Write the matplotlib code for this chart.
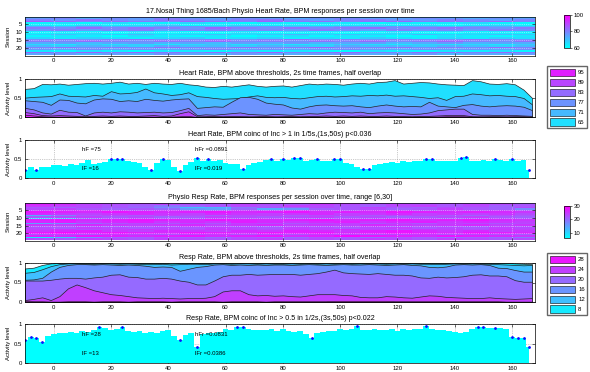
import numpy as np
import matplotlib
matplotlib.use('Agg')
import matplotlib.pyplot as plt
from matplotlib.patches import Patch
from matplotlib.colors import Normalize

plt.rcParams['font.family'] = ['Liberation Sans', 'DejaVu Sans']
plt.rcParams['font.size'] = 4.3

# ---------------- data ----------------
TITLE1 = "17.Nosaj Thing 1685/Bach Physio Heart Rate, BPM responses per session over time"
TITLE2 = "Heart Rate, BPM above thresholds, 2s time frames, half overlap"
TITLE3 = "Heart Rate, BPM coinc of Inc > 1 in 1/5s,(1s,50s) p<0.036"
TITLE4 = "Physio Resp Rate, BPM responses per session over time, range [6,30]"
TITLE5 = "Resp Rate, BPM above thresholds, 2s time frames, half overlap"
TITLE6 = "Resp Rate, BPM coinc of Inc > 0.5 in 1/2s,(3s,50s) p<0.022"

# heart-rate heatmap (BPM), 24 sessions x 20 time blocks of 9 s starting at -10 s
hr_map = [
    [72, 75, 70, 74, 78, 72, 70, 75, 73, 72, 76, 74, 70, 72, 75, 73, 71, 74, 72, 70],
    [76, 79, 74, 78, 75, 80, 77, 74, 78, 76, 73, 77, 79, 75, 74, 78, 76, 73, 77, 75],
    [80, 77, 82, 78, 76, 81, 79, 77, 80, 82, 78, 75, 79, 81, 77, 76, 80, 78, 75, 79],
    [86, 84, 80, 83, 81, 79, 84, 82, 80, 85, 81, 83, 79, 82, 84, 80, 83, 81, 84, 80],
    [62, 64, 61, 65, 63, 62, 66, 63, 61, 64, 62, 65, 63, 61, 64, 62, 63, 65, 62, 61],
    [64, 62, 66, 63, 65, 68, 62, 64, 66, 63, 65, 62, 64, 67, 63, 65, 62, 64, 66, 63],
    [74, 72, 76, 73, 71, 75, 77, 72, 74, 76, 71, 73, 75, 72, 77, 74, 72, 75, 73, 71],
    [81, 78, 83, 79, 82, 80, 77, 84, 80, 78, 82, 79, 81, 83, 78, 80, 82, 79, 77, 81],
    [77, 80, 76, 79, 81, 75, 78, 80, 77, 79, 76, 81, 78, 75, 80, 77, 79, 76, 80, 78],
    [63, 65, 62, 64, 66, 63, 61, 65, 64, 62, 66, 63, 65, 62, 64, 63, 66, 62, 64, 65],
    [62, 63, 65, 61, 64, 62, 63, 61, 65, 63, 62, 64, 61, 63, 65, 62, 61, 64, 63, 62],
    [67, 70, 66, 69, 71, 67, 68, 70, 66, 69, 72, 67, 70, 68, 66, 71, 68, 67, 70, 69],
    [62, 64, 63, 61, 65, 63, 62, 64, 61, 63, 65, 62, 64, 63, 61, 62, 64, 63, 62, 64],
    [66, 64, 67, 65, 63, 66, 68, 64, 65, 67, 63, 66, 64, 68, 65, 63, 66, 64, 67, 65],
    [78, 81, 77, 80, 82, 78, 79, 81, 77, 80, 83, 78, 80, 77, 81, 79, 78, 82, 80, 77],
    [81, 79, 83, 80, 78, 82, 80, 84, 79, 81, 78, 82, 80, 83, 79, 81, 84, 80, 78, 82],
    [73, 75, 71, 74, 76, 72, 74, 71, 75, 73, 76, 72, 74, 75, 71, 73, 76, 72, 74, 73],
    [66, 64, 68, 65, 67, 64, 66, 69, 65, 67, 64, 66, 68, 65, 64, 67, 65, 66, 64, 68],
    [71, 69, 72, 70, 68, 73, 70, 71, 69, 72, 70, 68, 73, 70, 71, 69, 72, 70, 68, 71],
    [80, 82, 78, 81, 79, 83, 80, 78, 82, 79, 81, 84, 79, 80, 82, 78, 81, 79, 83, 80],
    [76, 74, 78, 75, 77, 74, 76, 79, 75, 77, 74, 76, 78, 75, 74, 77, 75, 76, 74, 78],
    [64, 62, 65, 63, 61, 64, 63, 62, 65, 63, 64, 62, 61, 65, 63, 62, 64, 63, 65, 62],
    [83, 80, 85, 81, 84, 82, 79, 83, 81, 85, 80, 82, 84, 81, 80, 83, 82, 80, 84, 81],
    [74, 76, 72, 75, 73, 77, 74, 72, 76, 74, 73, 75, 77, 73, 74, 76, 72, 75, 73, 76],
]

# respiration-rate heatmap (BPM), 24 sessions x 20 time blocks of 9 s
rr_map = [
    [22, 23, 21, 22, 24, 22, 21, 23, 22, 21, 23, 22, 24, 22, 21, 22, 23, 21, 22, 20],
    [27, 26, 24, 23, 22, 24, 23, 22, 24, 23, 22, 25, 23, 22, 24, 23, 22, 24, 23, 22],
    [25, 24, 23, 22, 21, 19, 20, 22, 23, 22, 24, 23, 22, 21, 23, 24, 22, 23, 21, 22],
    [22, 21, 23, 22, 20, 17, 12, 13, 19, 22, 21, 23, 22, 24, 22, 21, 23, 22, 21, 23],
    [23, 24, 22, 21, 22, 20, 16, 15, 20, 14, 16, 21, 22, 23, 21, 22, 24, 22, 21, 17],
    [24, 25, 26, 24, 23, 25, 24, 22, 24, 23, 25, 24, 23, 25, 24, 22, 24, 23, 24, 22],
    [28, 27, 26, 28, 27, 26, 27, 28, 26, 27, 28, 26, 27, 26, 28, 27, 26, 27, 26, 25],
    [26, 25, 24, 25, 26, 25, 24, 26, 25, 24, 25, 26, 24, 25, 26, 24, 25, 24, 25, 23],
    [14, 18, 22, 23, 22, 24, 23, 22, 23, 24, 22, 23, 24, 22, 23, 24, 22, 21, 23, 22],
    [22, 23, 24, 22, 23, 21, 22, 24, 23, 22, 23, 24, 22, 23, 21, 22, 23, 24, 22, 21],
    [10, 13, 19, 22, 23, 22, 21, 23, 22, 23, 22, 21, 23, 22, 24, 23, 21, 22, 23, 22],
    [27, 28, 26, 27, 28, 27, 26, 28, 27, 26, 27, 28, 26, 27, 28, 26, 27, 28, 26, 25],
    [26, 27, 25, 26, 27, 25, 26, 25, 27, 26, 25, 26, 27, 25, 26, 27, 25, 26, 25, 24],
    [15, 17, 20, 22, 23, 22, 23, 22, 24, 23, 22, 23, 24, 22, 23, 22, 24, 23, 22, 23],
    [25, 24, 26, 25, 24, 25, 26, 24, 25, 26, 24, 25, 24, 26, 25, 24, 25, 26, 24, 25],
    [22, 23, 22, 21, 23, 22, 24, 23, 22, 21, 23, 22, 23, 24, 22, 23, 22, 21, 23, 22],
    [23, 22, 24, 23, 22, 23, 22, 24, 23, 22, 24, 23, 22, 23, 24, 22, 23, 22, 24, 23],
    [24, 25, 23, 24, 25, 24, 23, 25, 24, 23, 25, 24, 26, 24, 23, 25, 24, 23, 25, 24],
    [25, 26, 27, 25, 24, 26, 25, 24, 26, 25, 27, 26, 25, 27, 28, 26, 25, 26, 24, 25],
    [28, 29, 27, 28, 27, 26, 28, 27, 26, 28, 27, 28, 26, 27, 28, 27, 26, 28, 27, 26],
    [22, 23, 22, 24, 23, 22, 23, 24, 22, 23, 22, 24, 23, 22, 23, 24, 22, 23, 22, 21],
    [27, 26, 28, 27, 26, 27, 28, 26, 27, 28, 26, 27, 29, 28, 27, 26, 28, 27, 26, 25],
    [9, 12, 17, 20, 21, 22, 21, 20, 22, 21, 20, 22, 21, 20, 22, 21, 20, 21, 20, 19],
    [23, 22, 24, 23, 22, 24, 23, 22, 23, 24, 22, 23, 22, 24, 23, 22, 24, 23, 22, 23],
]

# fraction of sessions above thresholds, sampled every 3 s from -10 s
hr_thresholds = [95, 89, 83, 77, 71, 65]
hr65 = [0.74, 0.76, 0.87, 0.86, 0.88, 0.85, 0.87, 0.89, 0.90, 0.88,
        0.90, 0.93, 0.88, 0.90, 0.87, 0.90, 0.88, 0.87, 0.90, 0.86,
        0.84, 0.80, 0.79, 0.82, 0.80, 0.83, 0.86, 0.82, 0.80, 0.82,
        0.83, 0.80, 0.84, 0.88, 0.86, 0.88, 0.87, 0.85, 0.88, 0.90,
        0.88, 0.92, 0.93, 0.97, 0.88, 0.90, 0.92, 0.91, 0.88, 0.86,
        0.85, 0.84, 0.97, 0.94, 0.88, 0.87, 0.89, 0.86, 0.72, 0.50]
hr71 = [0.51, 0.53, 0.54, 0.55, 0.62, 0.56, 0.55, 0.54, 0.58, 0.56,
        0.68, 0.62, 0.63, 0.66, 0.75, 0.65, 0.62, 0.58, 0.60, 0.65,
        0.55, 0.53, 0.50, 0.48, 0.49, 0.50, 0.54, 0.57, 0.53, 0.52,
        0.53, 0.50, 0.49, 0.52, 0.55, 0.56, 0.54, 0.55, 0.57, 0.56,
        0.58, 0.57, 0.59, 0.56, 0.57, 0.55, 0.53, 0.50, 0.52, 0.45,
        0.55, 0.56, 0.62, 0.60, 0.57, 0.58, 0.56, 0.55, 0.50, 0.33]
hr77 = [0.44, 0.42, 0.40, 0.32, 0.46, 0.45, 0.38, 0.36, 0.46, 0.49,
        0.48, 0.42, 0.44, 0.42, 0.48, 0.45, 0.43, 0.46, 0.48, 0.49,
        0.24, 0.26, 0.28, 0.27, 0.40, 0.52, 0.53, 0.48, 0.38, 0.35,
        0.33, 0.25, 0.22, 0.28, 0.32, 0.33, 0.31, 0.30, 0.31, 0.28,
        0.26, 0.30, 0.33, 0.30, 0.28, 0.29, 0.28, 0.40, 0.30, 0.28,
        0.26, 0.32, 0.34, 0.30, 0.28, 0.30, 0.31, 0.30, 0.27, 0.18]
hr83 = [0.24, 0.20, 0.12, 0.09, 0.19, 0.14, 0.13, 0.04, 0.12, 0.14,
        0.12, 0.15, 0.14, 0.12, 0.13, 0.14, 0.12, 0.13, 0.18, 0.24,
        0.05, 0.07, 0.06, 0.08, 0.10, 0.12, 0.08, 0.07, 0.06, 0.08,
        0.07, 0.06, 0.08, 0.10, 0.09, 0.12, 0.14, 0.13, 0.12, 0.14,
        0.10, 0.12, 0.13, 0.12, 0.10, 0.08, 0.09, 0.12, 0.18, 0.20,
        0.22, 0.22, 0.08, 0.06, 0.06, 0.05, 0.06, 0.05, 0.04, 0.03]
hr89 = [0.13, 0.10, 0.05, 0.04, 0.05, 0.04, 0.03, 0.02, 0.03, 0.04,
        0.03, 0.04, 0.03, 0.03, 0.04, 0.05, 0.03, 0.04, 0.10, 0.15,
        0.02, 0.02, 0.03, 0.02, 0.03, 0.03, 0.02, 0.02, 0.03, 0.02,
        0.02, 0.03, 0.02, 0.03, 0.03, 0.04, 0.03, 0.04, 0.03, 0.04,
        0.03, 0.03, 0.04, 0.03, 0.03, 0.02, 0.03, 0.03, 0.04, 0.05,
        0.05, 0.05, 0.02, 0.02, 0.02, 0.02, 0.02, 0.02, 0.02, 0.01]
hr95 = [0.06, 0.04, 0.02, 0.01, 0.01, 0.01, 0.01, 0.00, 0.01, 0.01,
        0.01, 0.01, 0.01, 0.01, 0.01, 0.01, 0.01, 0.01, 0.02, 0.03,
        0.00, 0.01, 0.01, 0.00, 0.01, 0.01, 0.00, 0.01, 0.01, 0.00,
        0.01, 0.01, 0.00, 0.01, 0.01, 0.01, 0.01, 0.01, 0.01, 0.01,
        0.01, 0.01, 0.01, 0.01, 0.01, 0.00, 0.01, 0.01, 0.01, 0.02,
        0.02, 0.02, 0.01, 0.00, 0.01, 0.01, 0.00, 0.01, 0.01, 0.00]

rr_thresholds = [28, 24, 20, 16, 12, 8]
rr8 = [0.86, 0.88, 0.95, 0.99, 1.00, 1.00, 1.00, 1.00, 1.00, 1.00,
       1.00, 1.00, 1.00, 1.00, 1.00, 1.00, 1.00, 0.99, 1.00, 1.00,
       1.00, 1.00, 1.00, 1.00, 1.00, 1.00, 1.00, 1.00, 1.00, 1.00,
       1.00, 1.00, 1.00, 1.00, 1.00, 1.00, 1.00, 1.00, 1.00, 1.00,
       1.00, 1.00, 1.00, 1.00, 1.00, 1.00, 1.00, 1.00, 1.00, 1.00,
       1.00, 1.00, 1.00, 1.00, 1.00, 1.00, 1.00, 0.99, 0.98, 0.97]
rr12 = [0.75, 0.77, 0.84, 0.92, 0.97, 0.99, 0.99, 0.98, 0.98, 0.99,
        0.99, 0.98, 0.99, 0.98, 0.97, 0.97, 0.98, 0.96, 0.97, 0.98,
        0.98, 0.97, 0.99, 0.99, 0.98, 0.99, 0.99, 0.98, 0.99, 0.98,
        0.98, 0.99, 0.98, 0.99, 0.98, 0.99, 0.98, 0.99, 0.98, 0.99,
        0.98, 0.99, 0.98, 0.99, 0.98, 0.99, 0.98, 0.98, 0.97, 0.98,
        0.99, 0.98, 0.99, 0.98, 0.98, 0.97, 0.96, 0.95, 0.94, 0.95]
rr16 = [0.57, 0.58, 0.62, 0.78, 0.90, 0.95, 0.97, 0.97, 0.96, 0.97,
        0.96, 0.95, 0.96, 0.95, 0.93, 0.90, 0.91, 0.90, 0.80, 0.85,
        0.90, 0.92, 0.96, 0.97, 0.95, 0.96, 0.95, 0.96, 0.95, 0.96,
        0.96, 0.95, 0.96, 0.97, 0.96, 0.95, 0.96, 0.97, 0.96, 0.96,
        0.97, 0.96, 0.95, 0.96, 0.97, 0.95, 0.94, 0.90, 0.89, 0.91,
        0.96, 0.97, 0.96, 0.97, 0.95, 0.88, 0.87, 0.82, 0.78, 0.78]
rr20 = [0.55, 0.55, 0.55, 0.57, 0.60, 0.62, 0.62, 0.60, 0.63, 0.65,
        0.70, 0.71, 0.65, 0.64, 0.60, 0.60, 0.62, 0.60, 0.55, 0.52,
        0.45, 0.45, 0.55, 0.66, 0.70, 0.70, 0.72, 0.70, 0.71, 0.72,
        0.72, 0.72, 0.70, 0.72, 0.74, 0.78, 0.83, 0.76, 0.74, 0.73,
        0.72, 0.74, 0.72, 0.70, 0.70, 0.68, 0.63, 0.62, 0.65, 0.63,
        0.64, 0.66, 0.70, 0.71, 0.68, 0.68, 0.66, 0.56, 0.52, 0.52]
rr24 = [0.05, 0.08, 0.12, 0.05, 0.15, 0.35, 0.45, 0.38, 0.30, 0.25,
        0.20, 0.18, 0.15, 0.12, 0.11, 0.10, 0.11, 0.10, 0.09, 0.10,
        0.10, 0.11, 0.15, 0.27, 0.30, 0.30, 0.20, 0.17, 0.18, 0.16,
        0.17, 0.15, 0.14, 0.17, 0.20, 0.20, 0.20, 0.18, 0.17, 0.13,
        0.12, 0.12, 0.15, 0.14, 0.12, 0.11, 0.14, 0.17, 0.16, 0.13,
        0.12, 0.11, 0.10, 0.10, 0.12, 0.10, 0.09, 0.08, 0.09, 0.10]
rr28 = [0.03, 0.02, 0.02, 0.01, 0.01, 0.02, 0.02, 0.02, 0.01, 0.02,
        0.02, 0.02, 0.01, 0.02, 0.02, 0.02, 0.02, 0.01, 0.02, 0.02,
        0.02, 0.02, 0.02, 0.01, 0.02, 0.02, 0.02, 0.02, 0.01, 0.02,
        0.02, 0.02, 0.02, 0.02, 0.02, 0.02, 0.03, 0.03, 0.03, 0.03,
        0.03, 0.03, 0.03, 0.02, 0.02, 0.02, 0.02, 0.02, 0.02, 0.02,
        0.02, 0.02, 0.02, 0.02, 0.02, 0.02, 0.01, 0.01, 0.01, 0.01]

# coincidence activity, sampled every 2 s from -10 s
hr_coinc = [0.20, 0.30, 0.22, 0.30, 0.28, 0.33, 0.35, 0.32, 0.38, 0.35,
            0.40, 0.48, 0.38, 0.40, 0.42, 0.50, 0.50, 0.50, 0.45, 0.42,
            0.40, 0.30, 0.22, 0.40, 0.50, 0.48, 0.30, 0.18, 0.35, 0.42,
            0.52, 0.45, 0.50, 0.44, 0.48, 0.40, 0.38, 0.36, 0.25, 0.35,
            0.40, 0.42, 0.48, 0.50, 0.45, 0.50, 0.48, 0.52, 0.52, 0.46,
            0.47, 0.50, 0.46, 0.45, 0.50, 0.50, 0.40, 0.38, 0.30, 0.25,
            0.25, 0.35, 0.38, 0.40, 0.42, 0.40, 0.44, 0.43, 0.45, 0.46,
            0.50, 0.50, 0.45, 0.44, 0.45, 0.46, 0.52, 0.54, 0.46, 0.45,
            0.48, 0.44, 0.50, 0.48, 0.46, 0.50, 0.46, 0.48, 0.22]
rr_coinc = [0.60, 0.66, 0.64, 0.55, 0.70, 0.75, 0.78, 0.76, 0.80, 0.78,
            0.82, 0.80, 0.85, 0.93, 0.90, 0.85, 0.88, 0.92, 0.82, 0.80,
            0.82, 0.78, 0.80, 0.78, 0.82, 0.85, 0.70, 0.58, 0.72, 0.78,
            0.42, 0.75, 0.78, 0.76, 0.80, 0.86, 0.85, 0.92, 0.92, 0.86,
            0.84, 0.85, 0.84, 0.86, 0.83, 0.87, 0.83, 0.80, 0.82, 0.75,
            0.64, 0.78, 0.80, 0.82, 0.83, 0.86, 0.84, 0.86, 0.94, 0.85,
            0.84, 0.86, 0.85, 0.84, 0.86, 0.82, 0.87, 0.85, 0.86, 0.88,
            0.96, 0.86, 0.85, 0.84, 0.82, 0.80, 0.76, 0.80, 0.88, 0.92,
            0.92, 0.90, 0.91, 0.90, 0.86, 0.66, 0.65, 0.65, 0.42]
hr_stats = ["hF =75", "lF =16", "hFr =0.0891", "lFr =0.019"]
rr_stats = ["hF =28", "lF =13", "hFr =0.0831", "lFr =0.0386"]

# ---------------- drawing ----------------
W, H = 590, 372
fig = plt.figure(figsize=(W / 100, H / 100), dpi=100)
cmap = plt.get_cmap('cool')
XL = (-10, 168)


def box(l, t, r, b):
    return [l / W, 1 - b / H, (r - l) / W, (b - t) / H]


def style(ax):
    ax.set_xlim(*XL)
    ax.set_xticks(range(0, 161, 20))
    ax.tick_params(direction='in', length=2, width=0.4, top=True, right=True, pad=2)
    for s in ax.spines.values():
        s.set_linewidth(0.5)


def heat(ax, data, vmin, vmax, title):
    arr = np.array(data, dtype=float)
    nrow, ncol = arr.shape
    im = ax.imshow(arr, aspect='auto', cmap=cmap, vmin=vmin, vmax=vmax,
                   extent=(-10, -10 + 9 * ncol, nrow + 0.5, 0.5), interpolation='nearest')
    style(ax)
    ax.set_ylim(nrow + 0.5, 0.5)
    ax.set_yticks([5, 10, 15, 20])
    ax.set_ylabel('Session', labelpad=1)
    ax.grid(True, color='white', linestyle=':', linewidth=0.5, alpha=0.8)
    ax.set_title(title, pad=3)
    return im


def stacked(ax, x, curves, thresholds, vmin, vmax, title):
    norm = Normalize(vmin, vmax)
    for thr, y in sorted(zip(thresholds, curves), key=lambda p: p[0]):
        ax.fill_between(x, 0, y, facecolor=cmap(norm(thr)), edgecolor='#222222', linewidth=0.5)
    style(ax)
    ax.set_ylim(0, 1)
    ax.set_yticks([0, 0.5, 1])
    ax.set_yticklabels(['0', '0.5', '1'])
    ax.set_ylabel('Activity level', labelpad=1)
    ax.grid(True, color='0.6', linestyle=':', linewidth=0.5)
    ax.set_axisbelow(True)
    ax.set_title(title, pad=3)
    return [Patch(facecolor=cmap(norm(t)), edgecolor='black', linewidth=0.4) for t in thresholds]


def coinc(ax, x, y, hi, lo, stats, title):
    x = np.asarray(x)
    y = np.asarray(y)
    ax.fill_between(x, 0, y, step='mid', facecolor='#00ffff', edgecolor='none')
    m = (y >= hi) | (y <= lo)
    ax.plot(x[m], y[m], linestyle='none', marker='.', markersize=2.0, color='#1010ff')
    style(ax)
    ax.set_ylim(0, 1)
    ax.set_yticks([0, 0.5, 1])
    ax.set_yticklabels(['0', '0.5', '1'])
    ax.set_ylabel('Activity level', labelpad=1)
    ax.grid(True, color='0.6', linestyle=':', linewidth=0.5)
    ax.set_axisbelow(True)
    ax.set_title(title, pad=3)
    ax.text(10, 0.74, stats[0], va='center')
    ax.text(10, 0.24, stats[1], va='center')
    ax.text(49.5, 0.74, stats[2], va='center')
    ax.text(49.5, 0.24, stats[3], va='center')


def legend(ax, handles, labels, top):
    ax.legend(handles, labels, loc='upper left',
              bbox_to_anchor=(547 / W, 1 - top / H), bbox_transform=fig.transFigure,
              frameon=True, fancybox=False, edgecolor='0.4', framealpha=1,
              handlelength=4.3, handleheight=1.45, labelspacing=0.48, borderpad=0.45,
              handletextpad=0.45, borderaxespad=0)


L, R = 25, 535
ax1 = fig.add_axes(box(L, 17, R, 55.5))
im1 = heat(ax1, hr_map, 60, 100, TITLE1)
cax1 = fig.add_axes(box(564, 15, 570, 47.5))
cb1 = fig.colorbar(im1, cax=cax1, ticks=[60, 80, 100])
cb1.outline.set_linewidth(0.5)
cax1.tick_params(length=1.5, width=0.4, pad=1)

x3 = np.arange(-10, 168, 3)
ax2 = fig.add_axes(box(L, 79, R, 117))
h2 = stacked(ax2, x3, [hr95, hr89, hr83, hr77, hr71, hr65], hr_thresholds, 60, 100, TITLE2)
legend(ax2, h2, [str(t) for t in hr_thresholds], 66)

x2 = np.arange(-10, 168, 2)
ax3 = fig.add_axes(box(L, 140, R, 178))
coinc(ax3, x2, hr_coinc, 0.49, 0.26, hr_stats, TITLE3)

ax4 = fig.add_axes(box(L, 203, R, 240.5))
im4 = heat(ax4, rr_map, 6, 30, TITLE4)
cax4 = fig.add_axes(box(564, 206, 570, 238))
cb4 = fig.colorbar(im4, cax=cax4, ticks=[10, 20, 30])
cb4.outline.set_linewidth(0.5)
cax4.tick_params(length=1.5, width=0.4, pad=1)

ax5 = fig.add_axes(box(L, 263, R, 302))
h5 = stacked(ax5, x3, [rr28, rr24, rr20, rr16, rr12, rr8], rr_thresholds, 6, 30, TITLE5)
legend(ax5, h5, [str(t) for t in rr_thresholds], 253)

ax6 = fig.add_axes(box(L, 324, R, 363))
coinc(ax6, x2, rr_coinc, 0.91, 0.66, rr_stats, TITLE6)

for ax in (ax1, ax2, ax3, ax4, ax5, ax6):
    ax.yaxis.set_label_coords(-0.028, 0.5)

fig.savefig('out.png', dpi=100)
